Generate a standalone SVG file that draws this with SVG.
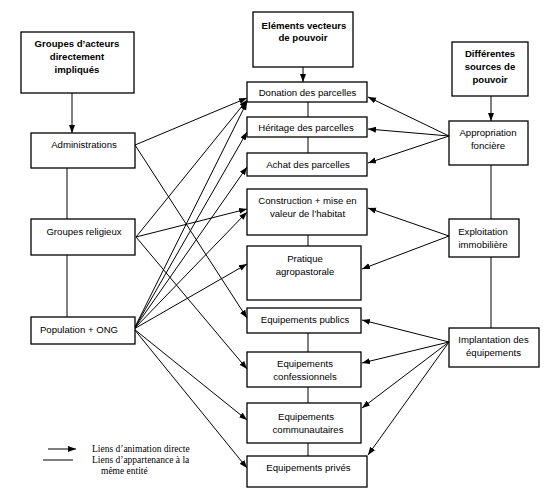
<svg xmlns="http://www.w3.org/2000/svg" width="559" height="495" viewBox="0 0 559 495">
<style>
.box{fill:#fff;stroke:#000;stroke-width:1.3}
.t{font-family:"Liberation Sans",Arial,sans-serif;font-size:9.6px;fill:#000;text-anchor:middle}
.b{font-weight:bold}
.c{stroke:#000;stroke-width:1;fill:none}
.a{stroke:#000;stroke-width:1;fill:none;marker-end:url(#ah)}
.lg{font-family:"Liberation Serif","Times New Roman",serif;font-size:9.5px;fill:#000}
</style>
<defs>
<marker id="ah" markerUnits="userSpaceOnUse" markerWidth="9" markerHeight="7" refX="8" refY="3" orient="auto">
<path d="M0,0 L8,3 L0,6 z" fill="#000"/>
</marker>
</defs>
<rect width="559" height="495" fill="#fff"/>

<g id="connectors">
<line class="a" x1="72" y1="93" x2="72" y2="133"/>
<line class="a" x1="303" y1="67" x2="303" y2="82"/>
<line class="a" x1="491" y1="96" x2="491" y2="121"/>
<line class="c" x1="67" y1="168" x2="67" y2="219"/>
<line class="c" x1="67" y1="255" x2="67" y2="317"/>
<line class="c" x1="308" y1="102" x2="308" y2="117"/>
<line class="c" x1="308" y1="137" x2="308" y2="153"/>
<line class="c" x1="308" y1="235" x2="308" y2="246"/>
<line class="c" x1="308" y1="333" x2="308" y2="352"/>
<line class="c" x1="308" y1="387" x2="308" y2="403"/>
<line class="c" x1="308" y1="443" x2="308" y2="456"/>
<line class="c" x1="491" y1="165" x2="491" y2="219"/>
<line class="c" x1="491" y1="257" x2="491" y2="328"/>

<line class="a" x1="135" y1="145" x2="247" y2="98"/>
<line class="a" x1="135" y1="145" x2="247" y2="318"/>
<line class="a" x1="136" y1="237" x2="247" y2="100"/>
<line class="a" x1="136" y1="237" x2="247" y2="209"/>
<line class="a" x1="136" y1="237" x2="247" y2="369"/>
<line class="a" x1="134" y1="329" x2="247" y2="102"/>
<line class="a" x1="134" y1="329" x2="247" y2="132"/>
<line class="a" x1="134" y1="329" x2="247" y2="167"/>
<line class="a" x1="134" y1="329" x2="247" y2="212"/>
<line class="a" x1="134" y1="329" x2="247" y2="264"/>
<line class="a" x1="134" y1="329" x2="247" y2="420"/>
<line class="a" x1="134" y1="329" x2="247" y2="468"/>

<line class="a" x1="449" y1="136" x2="368" y2="97"/>
<line class="a" x1="449" y1="136" x2="368" y2="129"/>
<line class="a" x1="449" y1="136" x2="368" y2="163"/>
<line class="a" x1="449" y1="236" x2="368" y2="208"/>
<line class="a" x1="449" y1="236" x2="362" y2="269"/>
<line class="a" x1="449" y1="342" x2="362" y2="320"/>
<line class="a" x1="449" y1="342" x2="362" y2="363"/>
<line class="a" x1="449" y1="342" x2="362" y2="408"/>
<line class="a" x1="449" y1="342" x2="368" y2="455"/>
</g>

<g id="n-groupes-acteurs">
<rect class="box" x="21" y="32" width="113" height="61"/>
<text class="t b" x="77" y="47">Groupes d’acteurs</text>
<text class="t b" x="77" y="60">directement</text>
<text class="t b" x="77" y="73">impliqués</text>
</g>
<g id="n-elements">
<rect class="box" x="253" y="12" width="100" height="55"/>
<text class="t b" x="304" y="28.5">Eléments vecteurs</text>
<text class="t b" x="303" y="41">de pouvoir</text>
</g>
<g id="n-sources">
<rect class="box" x="452" y="42" width="76" height="54"/>
<text class="t b" x="490" y="56.5">Différentes</text>
<text class="t b" x="490" y="69.5">sources de</text>
<text class="t b" x="490" y="82.5">pouvoir</text>
</g>

<g id="n-administrations">
<rect class="box" x="31" y="133" width="104" height="35"/>
<text class="t" x="84" y="147.5">Administrations</text>
</g>
<g id="n-religieux">
<rect class="box" x="31" y="219" width="104" height="36"/>
<text class="t" x="84" y="234.5">Groupes religieux</text>
</g>
<g id="n-population">
<rect class="box" x="31" y="317" width="104" height="27"/>
<text class="t" x="79" y="333">Population + ONG</text>
</g>

<g id="n-donation">
<rect class="box" x="247" y="82" width="120" height="20"/>
<text class="t" x="307.5" y="96">Donation des parcelles</text>
</g>
<g id="n-heritage">
<rect class="box" x="247" y="117" width="120" height="20"/>
<text class="t" x="306" y="130.5">Héritage des parcelles</text>
</g>
<g id="n-achat">
<rect class="box" x="247" y="153" width="120" height="23"/>
<text class="t" x="308" y="167.5">Achat des parcelles</text>
</g>
<g id="n-construction">
<rect class="box" x="247" y="189" width="120" height="46"/>
<text class="t" x="307.5" y="203.5">Construction + mise en</text>
<text class="t" x="307.5" y="216.5">valeur de l’habitat</text>
</g>
<g id="n-pratique">
<rect class="box" x="247" y="246" width="114" height="54"/>
<text class="t" x="305" y="261.5">Pratique</text>
<text class="t" x="305" y="274.5">agropastorale</text>
</g>
<g id="n-publics">
<rect class="box" x="247" y="308" width="114" height="25"/>
<text class="t" x="305" y="322.5">Equipements publics</text>
</g>
<g id="n-confessionnels">
<rect class="box" x="247" y="352" width="114" height="35"/>
<text class="t" x="305" y="366.5">Equipements</text>
<text class="t" x="305" y="379.5">confessionnels</text>
</g>
<g id="n-communautaires">
<rect class="box" x="247" y="403" width="114" height="40"/>
<text class="t" x="306" y="419.5">Equipements</text>
<text class="t" x="308" y="432.5">communautaires</text>
</g>
<g id="n-prives">
<rect class="box" x="247" y="456" width="120" height="31"/>
<text class="t" x="308.5" y="470.5">Equipements privés</text>
</g>

<g id="n-appropriation">
<rect class="box" x="449" y="121" width="79" height="44"/>
<text class="t" x="488" y="135.5">Appropriation</text>
<text class="t" x="488" y="148.5">foncière</text>
</g>
<g id="n-exploitation">
<rect class="box" x="449" y="219" width="70" height="38"/>
<text class="t" x="483" y="234.5">Exploitation</text>
<text class="t" x="483" y="247.5">immobilière</text>
</g>
<g id="n-implantation">
<rect class="box" x="449" y="328" width="90" height="39"/>
<text class="t" x="493.5" y="342.5">Implantation des</text>
<text class="t" x="493.5" y="355.5">équipements</text>
</g>

<g id="legend">
<line class="a" x1="48" y1="449" x2="76" y2="449"/>
<line class="c" x1="43" y1="460" x2="73" y2="460"/>
<text class="lg" x="92" y="452">Liens d’animation directe</text>
<text class="lg" x="92" y="463">Liens d’appartenance à la</text>
<text class="lg" x="101" y="474">même entité</text>
</g>
</svg>
